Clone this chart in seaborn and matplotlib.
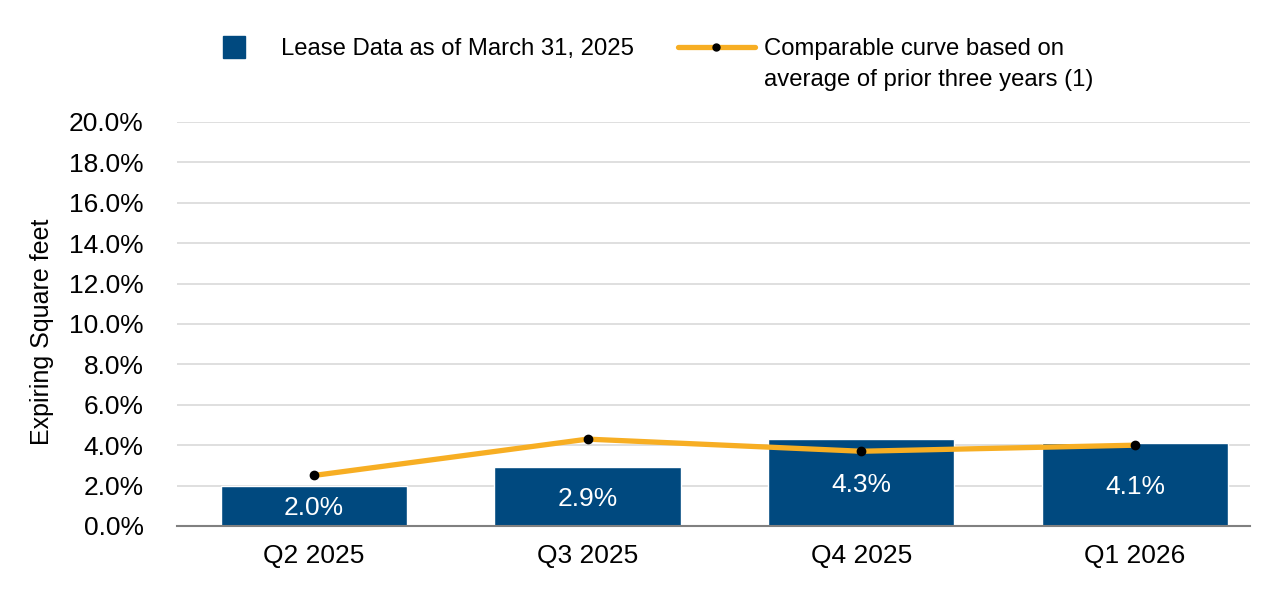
import pandas as pd
import matplotlib.pyplot as plt
import seaborn as sns
from matplotlib.lines import Line2D
from matplotlib.ticker import FuncFormatter, MultipleLocator

quarters = ['Q2 2025', 'Q3 2025', 'Q4 2025', 'Q1 2026']
lease_pct = [2.0, 2.9, 4.3, 4.1]
comparable_pct = [2.5, 4.3, 3.7, 4.0]

navy = '#00497F'
gold = '#F7AE23'

sns.set_theme(style='white')
plt.rcParams['font.family'] = ['Liberation Sans', 'DejaVu Sans']

df = pd.DataFrame({'Quarter': quarters, 'Lease': lease_pct})

fig, ax = plt.subplots(figsize=(12.86, 5.92), dpi=100)
fig.subplots_adjust(left=0.1376, right=0.972, bottom=0.1115, top=0.794)

sns.barplot(data=df, x='Quarter', y='Lease', order=quarters, color=navy,
            width=0.68, saturation=1, ax=ax, zorder=2)
ax.plot(range(len(quarters)), comparable_pct, color=gold, linewidth=3.8,
        marker='o', markersize=6, markerfacecolor='black',
        markeredgecolor='black', zorder=3)

for i, v in enumerate(lease_pct):
    ax.text(i, v / 2, f'{v:.1f}%', ha='center', va='center_baseline',
            color='white', fontsize=19, zorder=4)

ax.set_ylim(0, 20)
ax.set_xlim(-0.5, 3.42)
ax.yaxis.set_major_locator(MultipleLocator(2))
ax.yaxis.set_major_formatter(FuncFormatter(lambda y, _: f'{y:.1f}%'))
ax.grid(axis='y', color='#D9D9D9', linewidth=1.2, zorder=0)
ax.set_axisbelow(True)
ax.tick_params(axis='both', labelsize=19, length=0, colors='black')
ax.tick_params(axis='x', pad=13)
ax.tick_params(axis='y', pad=24)
ax.set_xlabel('')
ax.set_ylabel('Expiring Square feet', fontsize=18, color='black',
              labelpad=11, y=0.48)

for s in ['top', 'right', 'left']:
    ax.spines[s].set_visible(False)
ax.spines['bottom'].set_color('#808080')
ax.spines['bottom'].set_linewidth(1.5)

handles = [
    Line2D([], [], linestyle='none', marker='s', markersize=16,
           markerfacecolor=navy, markeredgecolor=navy),
    Line2D([], [], color=gold, linewidth=3.8, marker='o', markersize=5,
           markerfacecolor='black', markeredgecolor='black'),
]
labels = ['Lease Data as of March 31, 2025', 'Comparable curve based on']
leg = fig.legend(handles, labels, loc='center left',
                 bbox_to_anchor=(0.1355, 1 - 49 / 592),
                 ncol=2, frameon=False, fontsize=17.2, handlelength=3.2,
                 handletextpad=0.38, columnspacing=1.84)
for t in leg.get_texts():
    t.set_color('black')

# second line of the curve label sits under the first one
fig.canvas.draw()
bb = leg.get_texts()[1].get_window_extent()
x0 = bb.x0 / fig.bbox.width
yc = ((bb.y0 + bb.y1) / 2 - 31) / fig.bbox.height
fig.text(x0, yc, 'average of prior three years (1)', fontsize=17.2,
         color='black', ha='left', va='center')

plt.savefig('out.png', dpi=100)
